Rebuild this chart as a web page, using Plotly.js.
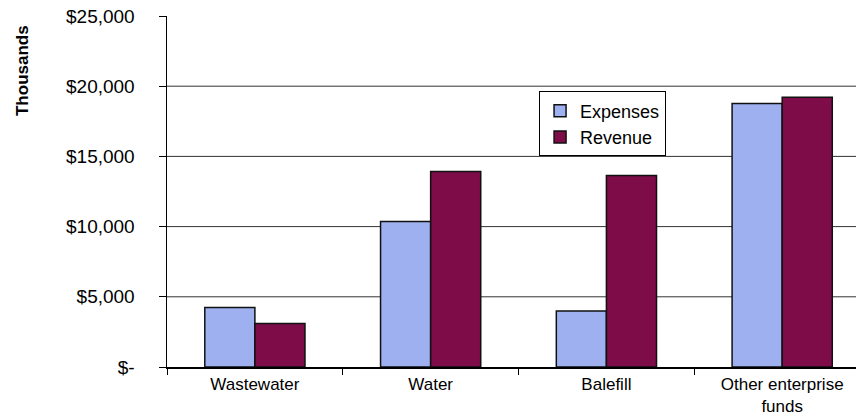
<!DOCTYPE html>
<html>
<head>
<meta charset="utf-8">
<script src="https://cdn.plot.ly/plotly-3.0.1.min.js"></script>
<style>
  html, body { margin: 0; padding: 0; background: #ffffff; }
  #chart { width: 856px; height: 419px; }
</style>
</head>
<body>
<div id="chart"></div>
<script>
// Data (thousands of dollars)
const categories = ["Wastewater", "Water", "Balefill", "Other enterprise<br>funds"];
const expenses = [4230, 10360, 3990, 18760];
const revenue = [3100, 13930, 13640, 19210];

// Axis ticks
const yTickVals = [0, 5000, 10000, 15000, 20000, 25000];
const yTickText = ["$-", "$5,000", "$10,000", "$15,000", "$20,000", "$25,000"];
const gridVals = [5000, 10000, 15000, 20000];

const FONT = "Liberation Sans, Arial, sans-serif";

const traces = [
  {
    type: "bar", name: "Expenses", x: categories, y: expenses,
    marker: { color: "#9eb0f0", line: { color: "#111111", width: 1.5 } }
  },
  {
    type: "bar", name: "Revenue", x: categories, y: revenue,
    marker: { color: "#7d0c48", line: { color: "#111111", width: 1.5 } }
  }
];

const shapes = gridVals.map(v => ({
  type: "line", xref: "paper", yref: "y", x0: 0, x1: 1, y0: v, y1: v,
  line: { color: "#333333", width: 1 }, layer: "below"
}));

const layout = {
  width: 856, height: 419,
  margin: { l: 167, r: 0, t: 16, b: 52 },
  paper_bgcolor: "#ffffff", plot_bgcolor: "#ffffff",
  font: { family: FONT, size: 18, color: "#000000" },
  barmode: "group", bargap: 0.43, bargroupgap: 0,
  showlegend: true,
  legend: {
    x: 0.54, y: 0.785, xanchor: "left", yanchor: "top",
    bgcolor: "#ffffff", bordercolor: "#000000", borderwidth: 1,
    font: { family: FONT, size: 18, color: "#000000" },
    itemwidth: 30, tracegroupgap: 0
  },
  xaxis: {
    type: "category", range: [-0.5, 3.42],
    showline: true, linecolor: "#000000", linewidth: 1.5,
    ticks: "outside", tickson: "boundaries", ticklen: 6, tickcolor: "#000000",
    showgrid: false, zeroline: false,
    ticklabelstandoff: 1,
    tickfont: { family: FONT, size: 17, color: "#000000" }
  },
  yaxis: {
    range: [0, 25000], tickmode: "array", tickvals: yTickVals, ticktext: yTickText,
    showline: true, linecolor: "#000000", linewidth: 1.5,
    ticks: "outside", ticklen: 7, tickcolor: "#000000",
    showgrid: false, zeroline: false,
    ticklabelstandoff: 20,
    tickfont: { family: FONT, size: 19, color: "#000000" }
  },
  shapes: shapes,
  annotations: [
    {
      text: "<b>Thousands</b>", xref: "paper", yref: "paper",
      x: -0.2105, y: 0.846, xanchor: "center", yanchor: "middle",
      textangle: -90, showarrow: false,
      font: { family: FONT, size: 17, color: "#000000" }
    }
  ]
};

Plotly.newPlot("chart", traces, layout, { staticPlot: true, displayModeBar: false });
</script>
</body>
</html>
